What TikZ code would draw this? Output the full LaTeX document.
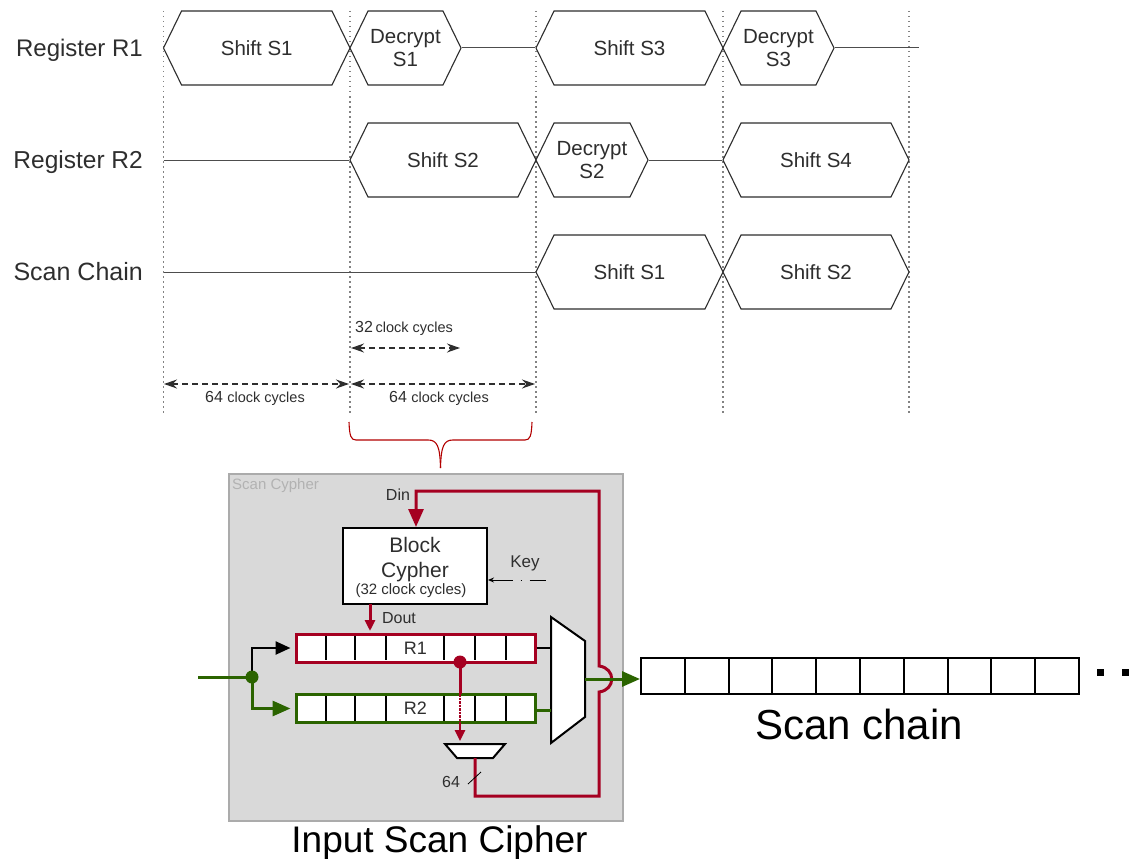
\documentclass[tikz,border=0pt]{standalone}
\usepackage{fontspec}
\setmainfont{Liberation Sans}
\usepackage{color}
\usetikzlibrary{shapes.symbols, arrows.meta}
\definecolor{wine}{HTML}{A50021}
\definecolor{leaf}{HTML}{2B6400}
\definecolor{panel}{HTML}{D9D9D9}
\definecolor{rim}{HTML}{ABABAB}
\definecolor{ink}{HTML}{2E2E2E}
\newcommand{\fs}[1]{\fontsize{#1}{23}\selectfont}
\tikzstyle{wave} = [draw=ink,line width=1.1pt,fill=white,inner sep=0pt,text=ink,align=center,shape=signal,signal to=east and west,signal pointer angle=128,minimum height=74pt,font=\fs{20.5}]
\tikzstyle{level} = [draw=ink!85,line width=1pt]
\tikzstyle{grid} = [draw=ink!60,line width=1.2pt,dash pattern=on 1.5pt off 3.5pt]
\tikzstyle{span} = [draw=ink,line width=1.2pt,dash pattern=on 6pt off 4pt,{Stealth[length=13pt,width=9pt]}-{Stealth[length=13pt,width=9pt]}]
\tikzstyle{lab} = [inner sep=0pt,text=ink]
\tikzstyle{reg} = [draw,line width=3pt,fill=white,minimum width=239pt,minimum height=28pt,inner sep=0pt,font=\fs{18},text=ink]
\tikzstyle{redbus} = [draw=wine,line width=3pt]
\tikzstyle{greenbus} = [draw=leaf,line width=3pt]
\tikzstyle{bighead} = [-{Triangle[length=18pt,width=15pt]}]
\tikzstyle{smallhead} = [-{Triangle[length=11pt,width=10pt]}]

\begin{document}
\begin{tikzpicture}[x=1pt,y=-1pt]
\useasboundingbox (0,0) rectangle (1144,859);

%vertical time marks
\foreach \x in {163.5,350,536,723,909}
{
\draw[grid] (\x,11) -- (\x,415);
}

%timing bars
\foreach \nm/\xa/\xb/\y/\txt in {sa/163.5/350/48/Shift S1, da/350/461/48/Decrypt\\S1, sc/536/723/48/Shift S3, dc/723/834/48/Decrypt\\S3, sb/350/536/160/Shift S2, db/536/648/160/Decrypt\\S2, sd/723/909/160/Shift S4, ca/536/723/272/Shift S1, cb/723/909/272/Shift S2}
{
\pgfmathsetmacro{\barw}{\xb-\xa}
\node[wave,minimum width=\barw pt] (\nm) at ({(\xa+\xb)/2},\y) {\txt};
}

\node[lab,anchor=east,font=\fs{24}] (rowa) at (143,50) {Register R1};
\node[lab,anchor=east,font=\fs{24.5}] (rowb) at (143,162) {Register R2};
\node[lab,anchor=east,font=\fs{25}] (rowc) at (143,272) {Scan Chain};

\coordinate (starta) at (919,48);
\coordinate (startb) at (163.5,160);
\coordinate (startc) at (163.5,272);
\draw[level] (da.east) -- (sc.west);
\draw[level] (dc.east) -- (starta);
\draw[level] (startb) -- (sb.west);
\draw[level] (db.east) -- (sd.west);
\draw[level] (startc) -- (ca.west);

%clock cycle spans
\coordinate (ta) at (351,348);
\coordinate (tb) at (460,348);
\coordinate (tc) at (164,384);
\coordinate (td) at (349,384);
\coordinate (te) at (351,384);
\coordinate (tf) at (535,384);
\draw[span] (ta) -- (tb);
\draw[span] (tc) -- (td);
\draw[span] (te) -- (tf);
\node[lab,anchor=west] (cyca) at (355,328) {\fs{16}32\,\fs{14.5}clock cycles};
\node[lab] (cycb) at (255,398) {\fs{16}64 \fs{14.5}clock cycles};
\node[lab] (cycc) at (439,398) {\fs{16}64 \fs{14.5}clock cycles};

%brace
\draw[draw=red!70!black,line width=1.1pt] (349,422) .. controls (349.5,436) and (351,440) .. (356,440) -- (428,440) .. controls (437,440) and (440,446) .. (440.5,468);
\draw[draw=red!70!black,line width=1.1pt] (532,422) .. controls (531.5,436) and (530,440) .. (525,440) -- (453,440) .. controls (444,440) and (441,446) .. (440.5,468);

%cipher panel
\node[draw=rim,fill=panel,line width=2.5pt,minimum width=394pt,minimum height=347pt,inner sep=0pt] (panel) at (426,647.5) {};
\node[anchor=west,inner sep=0pt,text=black!30,font=\fs{15}] (cyph) at (232,485.5) {Scan Cypher};
\node[draw,fill=white,line width=2pt,minimum width=144pt,minimum height=76pt,inner sep=0pt] (block) at (415,566) {};
\node[lab,font=\fs{21}] (blocka) at (415,545) {Block};
\node[lab,font=\fs{21}] (blockb) at (415,572) {Cypher};
\node[lab,font=\fs{15}] (blockc) at (411,591) {(32 clock cycles)};

\node[reg,draw=wine] (ra) at (415.5,648) {R1};
\node[reg,draw=leaf] (rb) at (415.5,708.5) {R2};
\foreach \x in {326,355,386,444,475,506}
{
\draw[line width=1.8pt] (\x,636) -- (\x,660);
\draw[line width=1.8pt] (\x,696) -- (\x,721);
}

%selectors
\draw[fill=white,line width=2pt] (551,617) -- (585,641) -- (585,717) -- (551,743) -- cycle;
\draw[fill=white,line width=2pt] (445,744) -- (505,744) -- (493,758) -- (457,758) -- cycle;
\coordinate (mainin) at (551,648);
\coordinate (mbinin) at (551,710);
\coordinate (mout) at (585,679);
\coordinate (sout) at (475,758);
\coordinate (din) at (416,491);
\coordinate (feed) at (599,491);
\coordinate (dout) at (370,604);
\coordinate (doutin) at (370,631);

%scan chain
\node[draw,fill=white,line width=2pt,minimum width=438pt,minimum height=36pt,inner sep=0pt] (chain) at (860,676) {};
\foreach \x in {1,...,9}
{
\draw[line width=2pt] (641+43.8*\x,658) -- (641+43.8*\x,694);
}
\fill (1097,668.5) rectangle (1104,675.5);
\fill (1122,668.5) rectangle (1129,675.5);
\node[lab,text=black,font=\fs{42}] (chainl) at (859,724) {Scan chain};
\node[lab,text=black,font=\fs{37}] (panell) at (439.5,843) {Input Scan Cipher};

%buses
\coordinate (inp) at (198,677);
\coordinate (fork) at (252,677);
\draw[draw=leaf,line width=3pt] (inp) -- (fork);
\draw[line width=2.5pt,-{Triangle[length=15pt,width=13pt]}] (fork) |- ([xshift=-4pt]ra.west);
\draw[greenbus,bighead] (fork) |- ([xshift=-4pt]rb.west);
\fill[leaf] (fork) circle (6.5pt);
\draw[line width=2pt] (ra.east |- mainin) -- (mainin);
\draw[greenbus] (rb.east |- mbinin) -- (mbinin);
\draw[redbus,bighead] (sout) -- (475,796) -- (599,796) -- (599,692) .. controls (616,690) and (616,668) .. (599,666) -- (feed) -- (din) -- (block.north -| din);
\draw[redbus,smallhead] (dout) -- (doutin);
\draw[greenbus,bighead] (mout) -- (chain.west |- mout);

\coordinate (tap) at (460,662);
\coordinate (tapa) at (460,694);
\coordinate (tapb) at (460,723);
\coordinate (tapc) at (460,741);
\fill[wine] (tap) circle (6.5pt);
\draw[redbus] (tap) -- (tapa);
\draw[draw=wine,line width=2.5pt,densely dotted] (tapa) -- (tapb);
\draw[draw=wine,line width=2.5pt,smallhead] (tapb) -- (tapc);

%key and width marks
\coordinate (keyin) at (546,580);
\draw[line width=1pt,dash pattern=on 21pt off 8pt on 1pt off 8pt on 16pt,{Stealth[length=6pt,width=5pt]}-] (block.east |- keyin) -- (keyin);
\node[lab,font=\fs{17}] (keyl) at (525,563) {Key};
\node[lab,font=\fs{16}] (din-l) at (398,495) {Din};
\node[lab,font=\fs{16}] (dout-l) at (399,618) {Dout};
\node[lab,font=\fs{16}] (wide) at (451,782) {64};
\coordinate (slasha) at (468,784);
\coordinate (slashb) at (481,772);
\draw[line width=0.8pt] (slasha) -- (slashb);

\end{tikzpicture}
\end{document}
